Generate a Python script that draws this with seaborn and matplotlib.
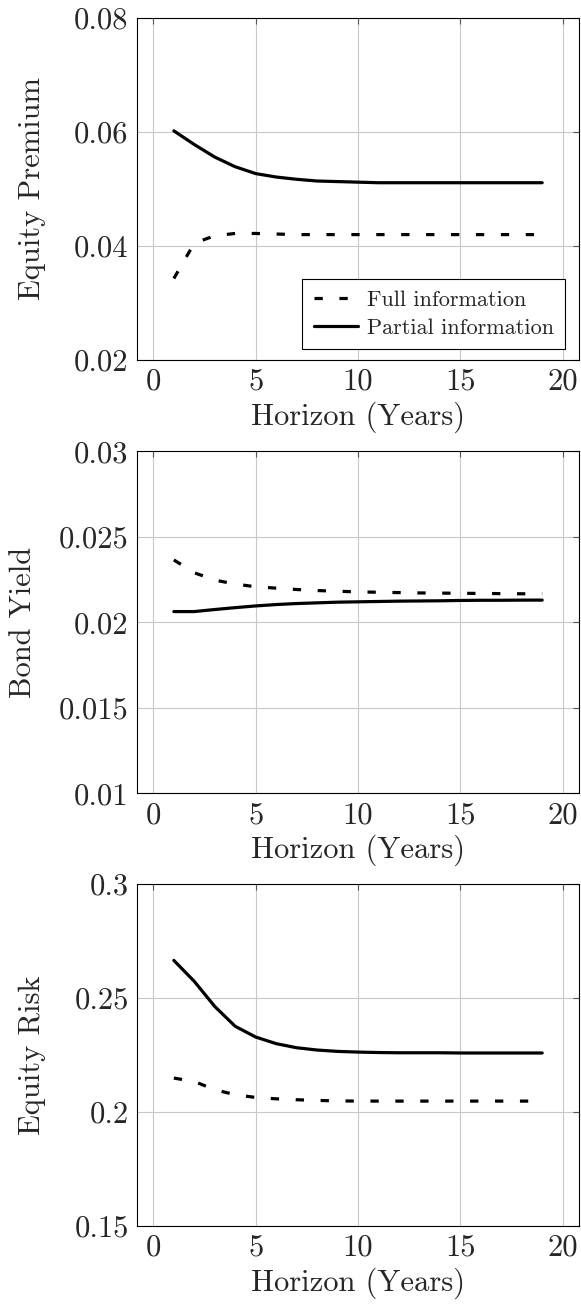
import numpy as np
import pandas as pd
import matplotlib
matplotlib.use("Agg")
import matplotlib.pyplot as plt
import seaborn as sns

horizon = list(range(1, 20))

ep_full = [0.0343, 0.0405, 0.0418, 0.0422, 0.0422, 0.0421, 0.0420, 0.0420, 0.0420, 0.0420,
           0.0420, 0.0420, 0.0420, 0.0420, 0.0420, 0.0420, 0.0420, 0.0420, 0.0420]
ep_partial = [0.0602, 0.0578, 0.0556, 0.0539, 0.0527, 0.0521, 0.0517, 0.0514, 0.0513, 0.0512,
              0.0511, 0.0511, 0.0511, 0.0511, 0.0511, 0.0511, 0.0511, 0.0511, 0.0511]

by_full = [0.02365, 0.0229, 0.02247, 0.02224, 0.02208, 0.02200, 0.02192, 0.02186, 0.02182, 0.02178,
           0.02176, 0.02174, 0.02172, 0.02171, 0.02170, 0.02169, 0.02168, 0.02167, 0.02167]
by_partial = [0.02063, 0.02063, 0.02075, 0.02086, 0.02096, 0.02104, 0.02110, 0.02114, 0.02118, 0.02120,
              0.02122, 0.02124, 0.02125, 0.02126, 0.02128, 0.02129, 0.02129, 0.02130, 0.02130]

er_full = [0.2149, 0.2134, 0.2098, 0.2076, 0.2064, 0.2058, 0.2054, 0.2051, 0.2049, 0.2048,
           0.2048, 0.2048, 0.2048, 0.2048, 0.2048, 0.2048, 0.2048, 0.2048, 0.2048]
er_partial = [0.2665, 0.2573, 0.2463, 0.2376, 0.2329, 0.2300, 0.2282, 0.2272, 0.2266, 0.2263,
              0.2261, 0.2260, 0.2260, 0.2260, 0.2259, 0.2259, 0.2259, 0.2259, 0.2259]

series_names = ["Full information", "Partial information"]
ylabels = ["Equity Premium", "Bond Yield", "Equity Risk"]
xlabel = "Horizon (Years)"
xticks = [0, 5, 10, 15, 20]
yticks = [[0.02, 0.04, 0.06, 0.08],
          [0.01, 0.015, 0.02, 0.025, 0.03],
          [0.15, 0.2, 0.25, 0.3]]
yticklabels = [["0.02", "0.04", "0.06", "0.08"],
               ["0.01", "0.015", "0.02", "0.025", "0.03"],
               ["0.15", "0.2", "0.25", "0.3"]]

sns.set_style("white")
plt.rcParams["font.family"] = ["cmr10", "DejaVu Serif"]
plt.rcParams["axes.formatter.use_mathtext"] = True
plt.rcParams["mathtext.fontset"] = "cm"

fig = plt.figure(figsize=(5.81, 13.12), dpi=100)
left, width, height = 0.2358, 0.7608, 0.2607
bottoms = [0.7256, 0.3953, 0.0655]
ylabel_x = [-0.2376, -0.258, -0.2376]

data = [(ep_full, ep_partial), (by_full, by_partial), (er_full, er_partial)]

for i, (full, partial) in enumerate(data):
    ax = fig.add_axes([left, bottoms[i], width, height])
    df = pd.DataFrame({
        "h": horizon * 2,
        "v": full + partial,
        "s": [series_names[0]] * len(horizon) + [series_names[1]] * len(horizon),
    })
    sns.lineplot(data=df, x="h", y="v", hue="s", style="s",
                 palette=["black", "black"],
                 dashes={series_names[0]: (2.6, 5.2), series_names[1]: ""},
                 linewidth=2.3, ax=ax, legend=(i == 0))
    for ln in ax.get_lines():
        ln.set_dash_capstyle("butt")
    ax.set_xlim(-0.8, 20.8)
    ax.set_ylim(yticks[i][0], yticks[i][-1])
    ax.set_xticks(xticks)
    ax.set_xticklabels([str(t) for t in xticks])
    ax.set_yticks(yticks[i])
    ax.set_yticklabels(yticklabels[i])
    ax.grid(True, color="#c8c8c8", linewidth=0.8)
    ax.tick_params(direction="in", length=4.5, width=0.8, color="#555555",
                   top=True, right=True, labelsize=22, pad=6)
    for sp in ax.spines.values():
        sp.set_color("black")
        sp.set_linewidth(0.8)
    ax.set_xlabel(xlabel, fontsize=22, labelpad=4)
    ax.set_ylabel(ylabels[i], fontsize=22)
    ax.yaxis.set_label_coords(ylabel_x[i], 0.5)
    ax.yaxis.label.set_va("center")
    if i == 0:
        leg = ax.legend(loc="lower right", fontsize=16, frameon=True, fancybox=False,
                        edgecolor="black", framealpha=1, handlelength=2.0,
                        handletextpad=0.4, borderpad=0.5, labelspacing=0.4,
                        borderaxespad=0, bbox_to_anchor=(0.9683, 0.032))
        leg.get_frame().set_linewidth(0.8)
        for ln in leg.get_lines():
            ln.set_dash_capstyle("butt")

fig.savefig("out.png", dpi=100)
